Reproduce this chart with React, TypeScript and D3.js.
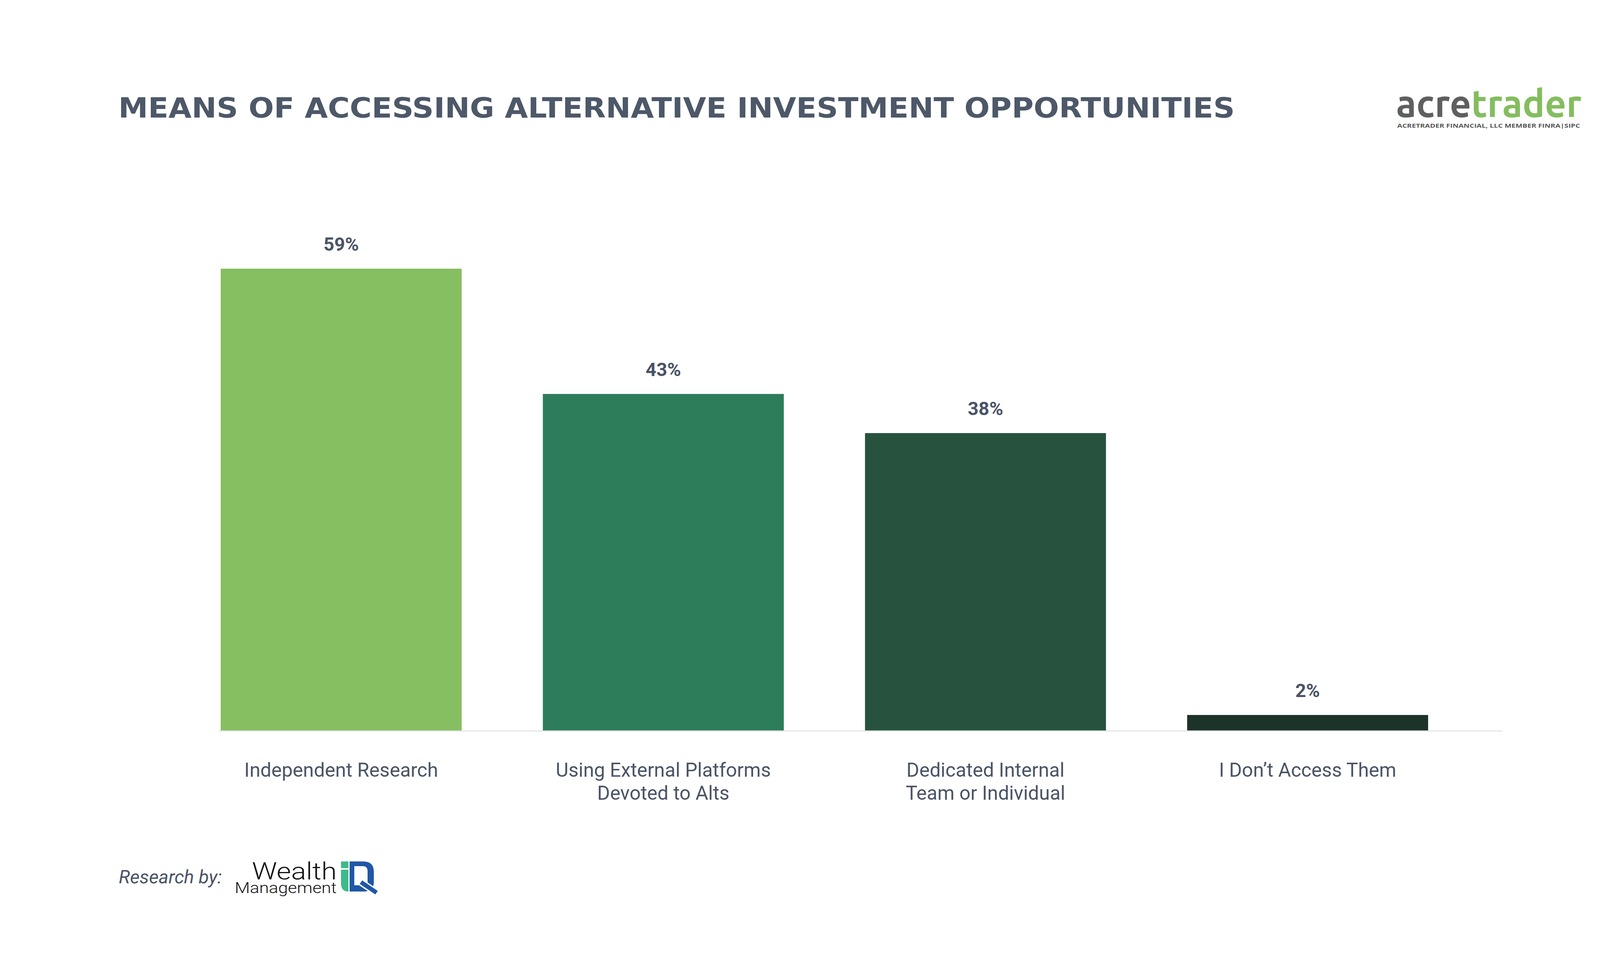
import React from 'react';
import * as d3 from 'd3';

// chart data
const categoryKeys = ['independent', 'external', 'internal', 'none'];
const categoryLines = [
  ['Independent Research'],
  ['Using External Platforms', 'Devoted to Alts'],
  ['Dedicated Internal', 'Team or Individual'],
  ['I Don\u2019t Access Them'],
];
const values = [59, 43, 38, 2];
const barColors = ['#85bf61', '#2d7c5a', '#27523e', '#1c3329'];

const W = 4343;
const H = 2443;
const textColor = '#4a5466';

const App: React.FC = () => {
  // scales
  const x = d3.scaleBand<string>()
    .domain(categoryKeys)
    .range([565, 3656])
    .paddingInner(0.252)
    .paddingOuter(0);

  const y = d3.scaleLinear()
    .domain([0, 59])
    .range([1871, 688]);

  const axisLeft = 560;
  const axisRight = 3846;

  return (
    <svg width={W} height={H} style={{ position: 'absolute', left: 0, top: 0, background: '#fff' }}>
      <rect x={0} y={0} width={W} height={H} fill="#fff" />

      {/* Title */}
      <text
        x={303}
        y={301}
        fontFamily="'DejaVu Sans', sans-serif"
        fontWeight={700}
        fontSize={71}
        fill="#4d5868"
        textLength={2858}
        lengthAdjust="spacingAndGlyphs"
      >
        MEANS OF ACCESSING ALTERNATIVE INVESTMENT OPPORTUNITIES
      </text>

      {/* acretrader logo */}
      <text
        x={3574}
        y={300}
        fontFamily="Ubuntu, 'Open Sans', sans-serif"
        fontWeight={700}
        fontSize={98}
        textLength={475}
        lengthAdjust="spacingAndGlyphs"
      >
        <tspan fill="#5e6060">acre</tspan>
        <tspan fill="#84bd5f">trader</tspan>
      </text>
      <text
        x={3577}
        y={327}
        fontFamily="'Open Sans', sans-serif"
        fontWeight={700}
        fontSize={15}
        fill="#555858"
        textLength={468}
        lengthAdjust="spacingAndGlyphs"
      >
        ACRETRADER FINANCIAL, LLC MEMBER FINRA|SIPC
      </text>

      {/* Bars */}
      {values.map((v, i) => (
        <rect
          key={categoryKeys[i]}
          x={x(categoryKeys[i])}
          y={y(v)}
          width={x.bandwidth()}
          height={y(0) - y(v)}
          fill={barColors[i]}
        />
      ))}

      {/* Baseline */}
      <line
        x1={axisLeft}
        x2={axisRight}
        y1={y(0) + 1}
        y2={y(0) + 1}
        stroke="#e4e6e6"
        strokeWidth={3}
      />

      {/* Value labels */}
      {values.map((v, i) => (
        <text
          key={'v' + i}
          x={(x(categoryKeys[i]) || 0) + x.bandwidth() / 2}
          y={y(v) - 46}
          textAnchor="middle"
          fontFamily="Roboto, sans-serif"
          fontWeight={700}
          fontSize={48}
          fill={textColor}
        >
          {`${v}%`}
        </text>
      ))}

      {/* Category labels */}
      {categoryLines.map((lines, i) => (
        <text
          key={'c' + i}
          textAnchor="middle"
          fontFamily="Roboto, sans-serif"
          fontSize={50}
          fill={textColor}
        >
          {lines.map((line, j) => (
            <tspan
              key={j}
              x={(x(categoryKeys[i]) || 0) + x.bandwidth() / 2}
              y={y(0) + 118 + j * 59}
            >
              {line}
            </tspan>
          ))}
        </text>
      ))}

      {/* Research by */}
      <text
        x={304}
        y={2262}
        fontFamily="Roboto, sans-serif"
        fontStyle="italic"
        fontSize={48}
        fill={textColor}
      >
        Research by:
      </text>

      {/* Wealth Management IQ logo */}
      <text
        x={862}
        y={2252}
        textAnchor="end"
        fontFamily="Roboto, sans-serif"
        fontWeight={300}
        fontSize={62}
        fill="#111"
        textLength={217}
        lengthAdjust="spacingAndGlyphs"
      >
        Wealth
      </text>
      <text
        x={862}
        y={2287}
        textAnchor="end"
        fontFamily="Roboto, sans-serif"
        fontWeight={300}
        fontSize={38}
        fill="#111"
        textLength={261}
        lengthAdjust="spacingAndGlyphs"
      >
        Management
      </text>
      <rect x={873} y={2206} width={19} height={17} fill="#3dba8a" />
      <path d="M873,2227 H892 V2283 Q873,2283 873,2262 Z" fill="#3dba8a" />
      <path
        d="M895,2206 H930 Q957,2206 957,2233 V2258 Q957,2283 932,2283 H895 Z M907,2218 H928 Q941,2218 941,2231 V2258 Q941,2267 932,2267 H907 Z"
        fill="#2057a6"
        fillRule="evenodd"
      />
      <line x1={922} y1={2258} x2={964} y2={2286} stroke="#fff" strokeWidth={18} />
      <line x1={924} y1={2259} x2={964} y2={2286} stroke="#2057a6" strokeWidth={11} />
    </svg>
  );
};

export default App;
